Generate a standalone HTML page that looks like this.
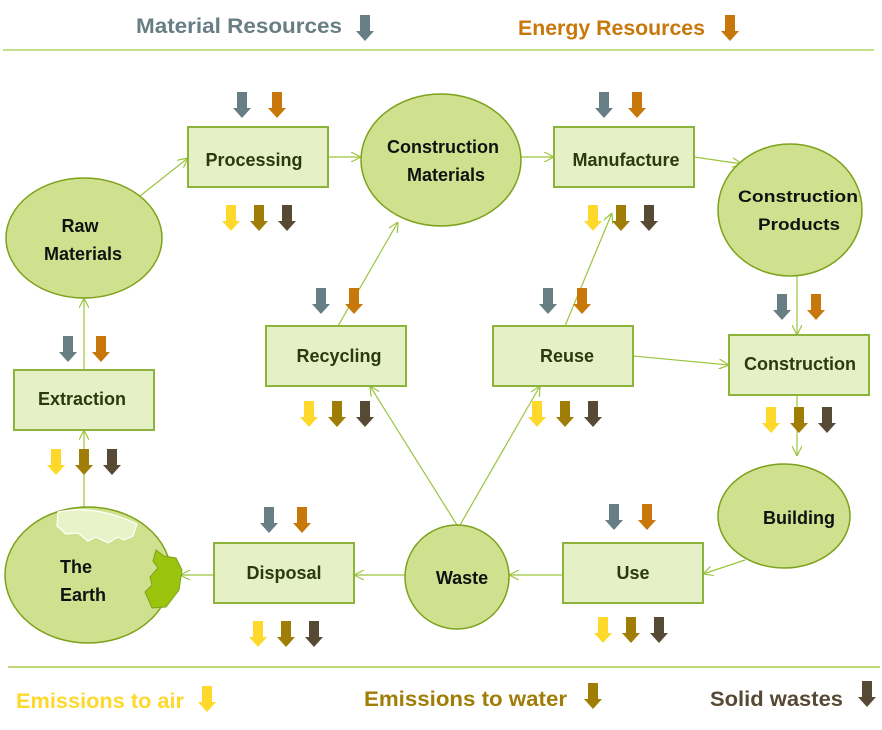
<!DOCTYPE html>
<html><head><meta charset="utf-8"><style>
html,body{margin:0;padding:0;background:#fff;}
svg{display:block;font-family:"Liberation Sans",sans-serif;font-weight:bold;}
</style></head><body>
<svg width="882" height="730" viewBox="0 0 882 730" xmlns="http://www.w3.org/2000/svg">
<defs>
<path id="ar" d="M-5,0 h10 v16 h4 l-9,10 l-9,-10 h4 z"/>
<marker id="m" viewBox="0 0 10 10" refX="10" refY="5" markerWidth="10" markerHeight="10" orient="auto" markerUnits="userSpaceOnUse">
<path d="M0,0 L10,5 L0,10" fill="none" stroke="#9bc53d" stroke-width="1.2"/></marker>
</defs>
<text x="136" y="33" font-size="21" fill="#677e84" textLength="206" lengthAdjust="spacingAndGlyphs">Material Resources</text>
<use href="#ar" x="365" y="15" fill="#677e84"/>
<text x="518" y="35" font-size="21" fill="#c8780a" textLength="187" lengthAdjust="spacingAndGlyphs">Energy Resources</text>
<use href="#ar" x="730" y="15" fill="#c8780a"/>
<line x1="3" y1="50" x2="874" y2="50" stroke="#c5df8a" stroke-width="2"/>
<line x1="8" y1="667" x2="880" y2="667" stroke="#a8cc4a" stroke-width="1.5"/>
<text x="16" y="708" font-size="21" fill="#fed82a" textLength="168" lengthAdjust="spacingAndGlyphs">Emissions to air</text>
<use href="#ar" x="207" y="686" fill="#fed82a"/>
<text x="364" y="706" font-size="21" fill="#a07d06" textLength="203" lengthAdjust="spacingAndGlyphs">Emissions to water</text>
<use href="#ar" x="593" y="683" fill="#a07d06"/>
<text x="710" y="706" font-size="21" fill="#574a34" textLength="133" lengthAdjust="spacingAndGlyphs">Solid wastes</text>
<use href="#ar" x="867" y="681" fill="#574a34"/>

<g stroke="#9bc53d" stroke-width="1.2" fill="none" marker-end="url(#m)">
<line x1="140" y1="196" x2="188" y2="158"/>
<line x1="328" y1="157" x2="361" y2="157"/>
<line x1="521" y1="157" x2="554" y2="157"/>
<line x1="694" y1="157" x2="742" y2="164"/>
<line x1="797" y1="276" x2="797" y2="335"/>
<line x1="797" y1="395" x2="797" y2="456"/>
<line x1="745" y1="560" x2="703" y2="574"/>
<line x1="563" y1="575" x2="509" y2="575"/>
<line x1="405" y1="575" x2="354" y2="575"/>
<line x1="214" y1="575" x2="180" y2="575"/>
<line x1="84" y1="507" x2="84" y2="430"/>
<line x1="84" y1="370" x2="84" y2="298"/>
<line x1="457" y1="525" x2="370" y2="386"/>
<line x1="460" y1="525" x2="540" y2="386"/>
<line x1="338" y1="326" x2="398" y2="222"/>
<line x1="565" y1="326" x2="612" y2="213"/>
<line x1="633" y1="356" x2="729" y2="365"/>
</g>

<g fill="#cfe08e" stroke="#7da21c" stroke-width="1.5">
<ellipse cx="84" cy="238" rx="78" ry="60"/>
<ellipse cx="441" cy="160" rx="80" ry="66"/>
<ellipse cx="790" cy="210" rx="72" ry="66"/>
<ellipse cx="784" cy="516" rx="66" ry="52"/>
<ellipse cx="457" cy="577" rx="52" ry="52"/>
<ellipse cx="88" cy="575" rx="83" ry="68"/>
</g>
<path d="M58,512 Q95,504 137,524 L133,536 L124,540 L118,537 L108,543 L96,537 L88,541 L78,533 L66,534 L57,526 Z" fill="#e8f4c8" stroke="#fff" stroke-width="1.2"/>
<path d="M156,550 L164,556 L176,558 L182,570 L179,590 L166,607 L152,608 L145,592 L152,585 L150,577 L158,568 L153,561 Z" fill="#9bc40e" stroke="#7da21c" stroke-width="1"/>

<g fill="#e6f0c6" stroke="#8db33a" stroke-width="2">
<rect x="188" y="127" width="140" height="60"/>
<rect x="554" y="127" width="140" height="60"/>
<rect x="14" y="370" width="140" height="60"/>
<rect x="266" y="326" width="140" height="60"/>
<rect x="493" y="326" width="140" height="60"/>
<rect x="729" y="335" width="140" height="60"/>
<rect x="563" y="543" width="140" height="60"/>
<rect x="214" y="543" width="140" height="60"/>
</g>

<g font-size="18" text-anchor="middle" fill="#2a3a0a">
<text x="254" y="166">Processing</text>
<text x="626" y="166">Manufacture</text>
<text x="82" y="405">Extraction</text>
<text x="339" y="362">Recycling</text>
<text x="567" y="362">Reuse</text>
<text x="800" y="370">Construction</text>
<text x="633" y="579">Use</text>
<text x="284" y="579">Disposal</text>
</g>
<g font-size="18" text-anchor="middle" fill="#111">
<text x="80" y="232">Raw</text>
<text x="83" y="260">Materials</text>
<text x="443" y="153">Construction</text>
<text x="446" y="181">Materials</text>
<text x="798" y="202" font-size="17" textLength="120" lengthAdjust="spacingAndGlyphs">Construction</text>
<text x="799" y="230" font-size="17" textLength="82" lengthAdjust="spacingAndGlyphs">Products</text>
<text x="799" y="524">Building</text>
<text x="462" y="584">Waste</text>
<text x="76" y="573">The</text>
<text x="83" y="601">Earth</text>
</g>

<g fill="#677e84">
<use href="#ar" x="242" y="92"/><use href="#ar" x="604" y="92"/>
<use href="#ar" x="321" y="288"/><use href="#ar" x="548" y="288"/>
<use href="#ar" x="782" y="294"/><use href="#ar" x="68" y="336"/>
<use href="#ar" x="269" y="507"/><use href="#ar" x="614" y="504"/>
</g>
<g fill="#c8780a">
<use href="#ar" x="277" y="92"/><use href="#ar" x="637" y="92"/>
<use href="#ar" x="354" y="288"/><use href="#ar" x="582" y="288"/>
<use href="#ar" x="816" y="294"/><use href="#ar" x="101" y="336"/>
<use href="#ar" x="302" y="507"/><use href="#ar" x="647" y="504"/>
</g>
<g fill="#fed82a">
<use href="#ar" x="231" y="205"/><use href="#ar" x="593" y="205"/>
<use href="#ar" x="309" y="401"/><use href="#ar" x="537" y="401"/>
<use href="#ar" x="771" y="407"/><use href="#ar" x="56" y="449"/>
<use href="#ar" x="258" y="621"/><use href="#ar" x="603" y="617"/>
</g>
<g fill="#a07d06">
<use href="#ar" x="259" y="205"/><use href="#ar" x="621" y="205"/>
<use href="#ar" x="337" y="401"/><use href="#ar" x="565" y="401"/>
<use href="#ar" x="799" y="407"/><use href="#ar" x="84" y="449"/>
<use href="#ar" x="286" y="621"/><use href="#ar" x="631" y="617"/>
</g>
<g fill="#574a34">
<use href="#ar" x="287" y="205"/><use href="#ar" x="649" y="205"/>
<use href="#ar" x="365" y="401"/><use href="#ar" x="593" y="401"/>
<use href="#ar" x="827" y="407"/><use href="#ar" x="112" y="449"/>
<use href="#ar" x="314" y="621"/><use href="#ar" x="659" y="617"/>
</g>
</svg>
</body></html>
